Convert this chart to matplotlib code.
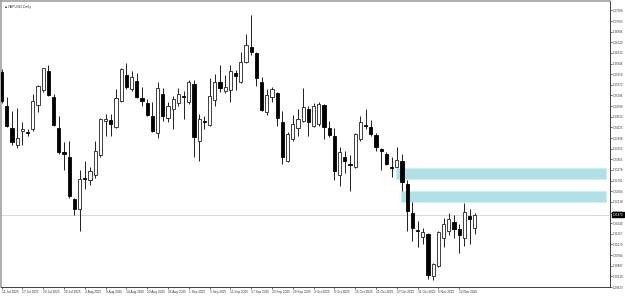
import numpy as np
import pandas as pd
import matplotlib
matplotlib.use("Agg")
import matplotlib.pyplot as plt
from matplotlib.patches import Rectangle

symbol = "GBPUSD,Daily"
first_day = "2025-07-11"

opens = [1.3571, 1.3480, 1.3422, 1.3376, 1.3414, 1.3410, 1.3419, 1.3483, 1.3523, 1.3574,
         1.3504, 1.3422, 1.3355, 1.3342, 1.3229, 1.3203, 1.3285, 1.3280, 1.3293, 1.3347,
         1.3440, 1.3443, 1.3424, 1.3494, 1.3563, 1.3526, 1.3547, 1.3502, 1.3488, 1.3454,
         1.3408, 1.3512, 1.3448, 1.3472, 1.3488, 1.3507, 1.3491, 1.3539, 1.3387, 1.3440,
         1.3430, 1.3496, 1.3544, 1.3520, 1.3523, 1.3568, 1.3544, 1.3598, 1.3640, 1.3622,
         1.3544, 1.3464, 1.3504, 1.3515, 1.3438, 1.3331, 1.3390, 1.3422, 1.3440, 1.3472,
         1.3427, 1.3432, 1.3483, 1.3422, 1.3400, 1.3293, 1.3344, 1.3323, 1.3317, 1.3390,
         1.3430, 1.3424, 1.3403, 1.3363, 1.3352, 1.3317, 1.3317, 1.3333, 1.3269, 1.3192,
         1.3147, 1.3128, 1.3136, 1.3021, 1.3048, 1.3125, 1.3144, 1.3168, 1.3149, 1.3125,
         1.3184, 1.3152]
highs = [1.3579, 1.3504, 1.3467, 1.3475, 1.3438, 1.3419, 1.3512, 1.3536, 1.3584, 1.3590,
         1.3512, 1.3454, 1.3384, 1.3387, 1.3232, 1.3309, 1.3331, 1.3317, 1.3387, 1.3448,
         1.3459, 1.3459, 1.3526, 1.3582, 1.3595, 1.3574, 1.3568, 1.3531, 1.3499, 1.3491,
         1.3544, 1.3528, 1.3491, 1.3507, 1.3528, 1.3520, 1.3550, 1.3550, 1.3459, 1.3454,
         1.3555, 1.3566, 1.3590, 1.3563, 1.3592, 1.3576, 1.3625, 1.3673, 1.3726, 1.3625,
         1.3558, 1.3526, 1.3531, 1.3518, 1.3467, 1.3411, 1.3456, 1.3472, 1.3528, 1.3480,
         1.3488, 1.3491, 1.3486, 1.3440, 1.3422, 1.3371, 1.3360, 1.3347, 1.3408, 1.3454,
         1.3472, 1.3443, 1.3408, 1.3366, 1.3355, 1.3344, 1.3371, 1.3352, 1.3280, 1.3221,
         1.3171, 1.3152, 1.3139, 1.3058, 1.3144, 1.3179, 1.3192, 1.3187, 1.3163, 1.3219,
         1.3203, 1.3192]
lows = [1.3488, 1.3424, 1.3376, 1.3366, 1.3374, 1.3400, 1.3414, 1.3464, 1.3518, 1.3507,
        1.3427, 1.3352, 1.3309, 1.3232, 1.3187, 1.3144, 1.3256, 1.3267, 1.3285, 1.3344,
        1.3400, 1.3400, 1.3422, 1.3491, 1.3526, 1.3520, 1.3502, 1.3480, 1.3454, 1.3411,
        1.3395, 1.3440, 1.3438, 1.3419, 1.3480, 1.3446, 1.3486, 1.3342, 1.3333, 1.3419,
        1.3427, 1.3480, 1.3518, 1.3515, 1.3491, 1.3523, 1.3542, 1.3595, 1.3619, 1.3534,
        1.3467, 1.3456, 1.3491, 1.3427, 1.3325, 1.3329, 1.3387, 1.3400, 1.3438, 1.3400,
        1.3424, 1.3427, 1.3392, 1.3398, 1.3280, 1.3264, 1.3299, 1.3251, 1.3312, 1.3387,
        1.3419, 1.3400, 1.3360, 1.3307, 1.3320, 1.3288, 1.3315, 1.3251, 1.3144, 1.3117,
        1.3099, 1.3107, 1.3013, 1.3010, 1.3045, 1.3099, 1.3133, 1.3125, 1.3085, 1.3104,
        1.3109, 1.3136]
closes = [1.3494, 1.3427, 1.3384, 1.3395, 1.3419, 1.3408, 1.3494, 1.3534, 1.3582, 1.3510,
          1.3430, 1.3355, 1.3350, 1.3237, 1.3203, 1.3283, 1.3283, 1.3304, 1.3360, 1.3446,
          1.3446, 1.3432, 1.3502, 1.3579, 1.3531, 1.3558, 1.3504, 1.3494, 1.3456, 1.3414,
          1.3528, 1.3454, 1.3480, 1.3499, 1.3512, 1.3504, 1.3544, 1.3398, 1.3446, 1.3438,
          1.3507, 1.3544, 1.3528, 1.3531, 1.3574, 1.3560, 1.3598, 1.3646, 1.3625, 1.3555,
          1.3470, 1.3510, 1.3526, 1.3448, 1.3344, 1.3406, 1.3432, 1.3446, 1.3478, 1.3438,
          1.3480, 1.3486, 1.3424, 1.3403, 1.3304, 1.3355, 1.3333, 1.3320, 1.3406, 1.3438,
          1.3427, 1.3406, 1.3371, 1.3358, 1.3325, 1.3312, 1.3336, 1.3275, 1.3197, 1.3152,
          1.3144, 1.3141, 1.3024, 1.3053, 1.3141, 1.3163, 1.3176, 1.3149, 1.3133, 1.3195,
          1.3176, 1.3187]

# fair value gap zones: (start bar, bottom, top)
zone_starts = [76, 77]
zone_bottoms = [1.3283, 1.3221]
zone_tops = [1.3312, 1.3251]

price_ticks = [1.37380 - 0.002868 * k for k in range(27)]

dates = pd.bdate_range(first_day, periods=len(opens))
x = np.arange(len(opens))
o = np.array(opens); h = np.array(highs); l = np.array(lows); c = np.array(closes)
up = c >= o

plt.rcParams['font.family'] = ['Liberation Sans', 'DejaVu Sans']
fig = plt.figure(figsize=(6.25, 2.98), dpi=100)
ax = fig.add_axes([1 / 625, 11 / 298, 609 / 625, 286 / 298])

ax.vlines(x, l, h, color='#202020', lw=0.7, zorder=2)
body_lo = np.minimum(o, c)
body_h = np.abs(c - o)
ax.bar(x[up], body_h[up], bottom=body_lo[up], width=0.62, color='white',
       edgecolor='#202020', lw=0.6, zorder=3)
ax.bar(x[~up], body_h[~up], bottom=body_lo[~up], width=0.62, color='black',
       edgecolor='black', lw=0.6, zorder=3)

zone_end = 116.4
for s, b, t in zip(zone_starts, zone_bottoms, zone_tops):
    ax.add_patch(Rectangle((s - 0.1, b), zone_end - s, t - b, facecolor='#b0e0e6',
                           edgecolor='#cdeef1', lw=0.8, zorder=1))

last = closes[-1]
ax.axhline(last, color='#d8d8d8', lw=0.7, zorder=0)

ax.set_xlim(-0.1, 117.0)
ax.set_ylim(1.29997, 1.37633)

ax.yaxis.tick_right()
ax.set_yticks(price_ticks)
ax.set_yticklabels(["%.5f" % p for p in price_ticks])
ax.tick_params(axis='y', length=1.5, width=0.5, pad=0.8, labelsize=2.1, colors='#333333')
tick_idx = x[::4]
ax.set_xticks(tick_idx)
ax.set_xticklabels([f"{d.day} {d.strftime('%b %Y')}" for d in dates[tick_idx]], ha='left')
ax.tick_params(axis='x', length=1.5, width=0.5, pad=1, labelsize=2.3, colors='#333333')

for side in ['left', 'top']:
    ax.spines[side].set_color('#a0a0a0')
    ax.spines[side].set_linewidth(1.2)
for side in ['right', 'bottom']:
    ax.spines[side].set_color('#404040')
    ax.spines[side].set_linewidth(0.7)

ax.text(1.004, last, "%.5f" % last, transform=ax.get_yaxis_transform(), va='center',
        ha='left', fontsize=2.1, color='white', clip_on=False, zorder=10,
        bbox=dict(boxstyle='square,pad=0.2', fc='black', ec='black'))

ax.text(0.006, 0.985, "\u25a0", transform=ax.transAxes, fontsize=2.5, va='top',
        color='#404040')
ax.text(0.012, 0.985, symbol, transform=ax.transAxes, fontsize=2.6, va='top',
        color='#404040')

fig.savefig("out.png", dpi=100)
